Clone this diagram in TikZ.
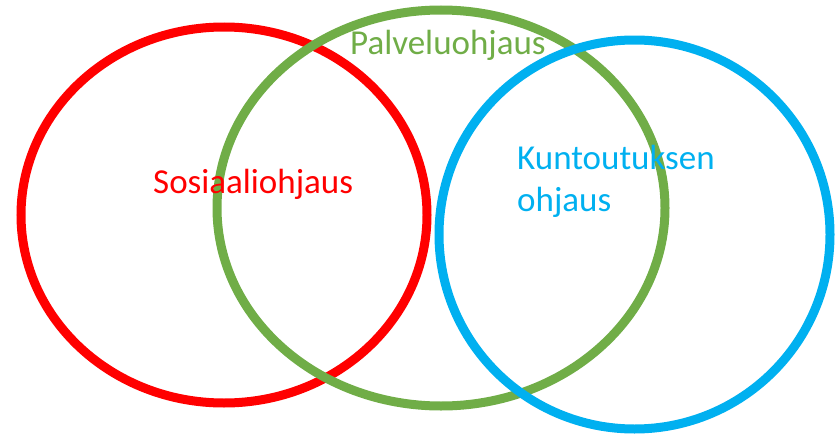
\documentclass[tikz,border=0pt]{standalone}
\usepackage{fontspec}
\setmainfont{Carlito}
\definecolor{ored}{HTML}{FF0000}
\definecolor{ogreen}{HTML}{70AD47}
\definecolor{oblue}{HTML}{00B0F0}
\begin{document}
\begin{tikzpicture}[x=1pt,y=-1pt,
  ring/.style={line width=9pt},
  lbl/.style={inner sep=0pt,anchor=base west,font=\fontsize{35}{42}\selectfont}]
\useasboundingbox (0,0) rectangle (835,439);
\draw[ring,ored] (224,215) ellipse [x radius=203, y radius=188];
\draw[ring,ogreen] (441,208) ellipse [x radius=224, y radius=198];
\draw[ring,oblue] (634.5,234.5) ellipse [x radius=195.5, y radius=194.5];
\node[lbl,text=ored] (sos) at (153,193) {Sosiaaliohjaus};
\node[lbl,text=ogreen] (pal) at (350,54) {Palveluohjaus};
\node[lbl,text=oblue,align=left] (kun) at (517,211) {Kuntoutuksen\\ohjaus};
\end{tikzpicture}
\end{document}
